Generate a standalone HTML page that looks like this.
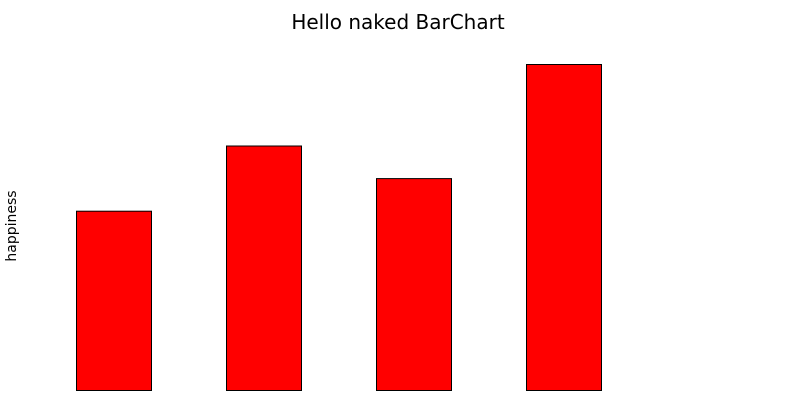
<!DOCTYPE html>
<html><head><meta charset="utf-8"><style>
body{margin:0;background:#fff;}
svg{display:block;font-family:"DejaVu Sans","Liberation Sans",sans-serif;}
</style></head><body>
<svg id="chart" width="800" height="400">
<text x="398" y="29" text-anchor="middle" font-size="20" fill="#000">Hello naked BarChart</text>
<text transform="translate(16,226) rotate(-90)" text-anchor="middle" font-size="14" fill="#000">happiness</text>
<g id="bars"></g>
</svg>
<script>
const categories = ["A", "B", "C", "D"];
const values = [5.5, 7.5, 6.5, 10];
const yMax = 10;
const plotLeft = 39, bandW = 150, plotBottom = 390, plotH = 326;
function xScale(i){ return plotLeft + i*bandW; }
function yScale(v){ return plotBottom - v/yMax*plotH; }
const g = document.getElementById('bars');
categories.forEach((c,i)=>{
  const r = document.createElementNS('http://www.w3.org/2000/svg','rect');
  const x = xScale(i) + bandW*0.25;
  const y = yScale(values[i]);
  r.setAttribute('x', x);
  r.setAttribute('y', y + 0.5);
  r.setAttribute('width', bandW*0.5);
  r.setAttribute('height', plotBottom - y);
  r.setAttribute('fill', '#ff0000');
  r.setAttribute('stroke', '#000');
  r.setAttribute('stroke-width', '1');
  
  
  g.appendChild(r);
});
</script>
</body></html>
